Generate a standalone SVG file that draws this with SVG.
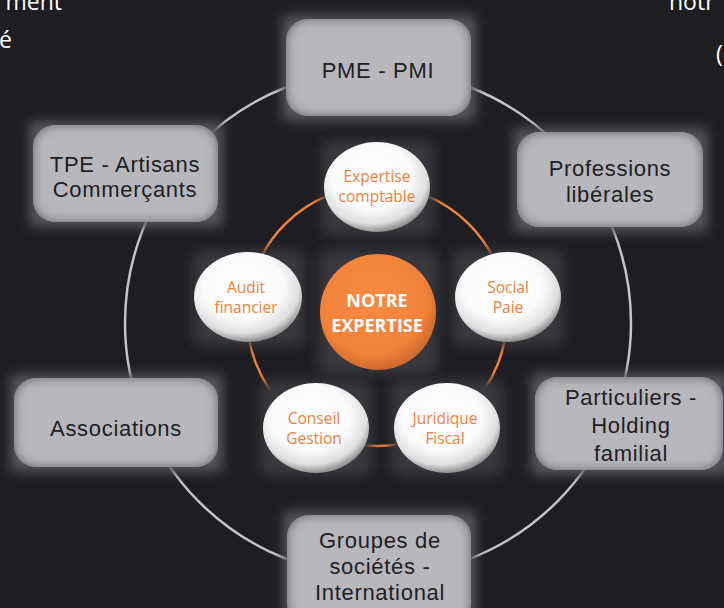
<svg xmlns="http://www.w3.org/2000/svg" width="724" height="608" viewBox="0 0 724 608">
<defs>
<style>
.box{fill:#b8b8bc;filter:url(#inset)}
.halo{fill:#55555b;filter:url(#soft)}
.btxt{font-family:"Liberation Sans","Open Sans",sans-serif;font-size:22px;letter-spacing:0.7px;fill:#202024;text-anchor:middle}
.wc{fill:url(#wg)}
.wtxt{font-family:"Open Sans","Liberation Sans",sans-serif;font-size:15.5px;fill:#f07f3c;text-anchor:middle}
.ctxt{font-family:"Open Sans","Liberation Sans",sans-serif;font-size:18px;font-weight:bold;fill:#ffffff;text-anchor:middle}
.bg{font-family:"Open Sans","Liberation Sans",sans-serif;font-size:23px;fill:#ffffff}
.whalo{fill:#38383d;filter:url(#soft)}
</style>
<filter id="inset" x="-10%" y="-10%" width="120%" height="120%">
<feFlood flood-color="#3c3c42" result="c"/>
<feComposite in="c" in2="SourceAlpha" operator="out" result="inv"/>
<feGaussianBlur in="inv" stdDeviation="6" result="blur"/>
<feComposite in="blur" in2="SourceAlpha" operator="in" result="shadow"/>
<feMerge><feMergeNode in="SourceGraphic"/><feMergeNode in="shadow"/></feMerge>
</filter>
<filter id="soft" x="-30%" y="-30%" width="160%" height="160%">
<feGaussianBlur stdDeviation="6"/>
</filter>
<radialGradient id="wg" cx="45%" cy="38%" r="62%">
<stop offset="0" stop-color="#ffffff"/>
<stop offset="0.6" stop-color="#fbfbfb"/>
<stop offset="0.85" stop-color="#dedede"/>
<stop offset="1" stop-color="#8e8e8e"/>
</radialGradient>
<radialGradient id="og" cx="45%" cy="40%" r="62%">
<stop offset="0" stop-color="#f68b42"/>
<stop offset="0.75" stop-color="#f2823b"/>
<stop offset="1" stop-color="#c9652a"/>
</radialGradient>
</defs>
<rect width="724" height="608" fill="#1e1d22"/>
<g id="bgtext">
<text class="bg" x="62" y="10" text-anchor="end">ment</text>
<text class="bg" x="12" y="48" text-anchor="end">é</text>
<text class="bg" x="669" y="10">notr</text>
<text class="bg" x="716" y="62">(</text>
</g>
<g id="connectors" fill="none">
<circle cx="378" cy="323" r="253" stroke="#c4c4c8" stroke-width="2.5"/>
<circle cx="377" cy="316" r="130" stroke="#f0823a" stroke-width="2.5"/>
</g>
<g id="pme">
<rect class="halo" x="282" y="15" width="194" height="106" rx="6"/>
<rect class="box" x="286" y="19" width="185" height="97" rx="22"/>
<text class="btxt" x="378" y="78">PME - PMI</text>
</g>
<g id="tpe">
<rect class="halo" x="29" y="121" width="194" height="106" rx="6"/>
<rect class="box" x="33" y="125" width="185" height="97" rx="22"/>
<text class="btxt" x="125" y="172">TPE - Artisans</text>
<text class="btxt" x="125" y="197">Commerçants</text>
</g>
<g id="professions">
<rect class="halo" x="513" y="128" width="195" height="104" rx="6"/>
<rect class="box" x="517" y="132" width="186" height="95" rx="22"/>
<text class="btxt" x="610" y="176">Professions</text>
<text class="btxt" x="610" y="202">libérales</text>
</g>
<g id="associations">
<rect class="halo" x="10" y="374" width="213" height="98" rx="6"/>
<rect class="box" x="14" y="378" width="204" height="89" rx="22"/>
<text class="btxt" x="116" y="436">Associations</text>
</g>
<g id="particuliers">
<rect class="halo" x="531" y="373" width="198" height="102" rx="6"/>
<rect class="box" x="535" y="377" width="188" height="93" rx="22"/>
<text class="btxt" x="631" y="405">Particuliers -</text>
<text class="btxt" x="631" y="433">Holding</text>
<text class="btxt" x="631" y="461">familial</text>
</g>
<g id="groupes">
<rect class="halo" x="283" y="511" width="193" height="106" rx="6"/>
<rect class="box" x="287" y="515" width="184" height="110" rx="22"/>
<text class="btxt" x="380" y="548">Groupes de</text>
<text class="btxt" x="380" y="574">sociétés -</text>
<text class="btxt" x="380" y="600">International</text>
</g>
<g id="expertise-comptable">
<rect class="whalo" x="322" y="140" width="112" height="96" rx="10"/>
<ellipse class="wc" cx="377" cy="187" rx="53" ry="45"/>
<text class="wtxt" x="377" y="182">Expertise</text>
<text class="wtxt" x="377" y="202">comptable</text>
</g>
<g id="audit">
<rect class="whalo" x="193" y="250" width="112" height="96" rx="10"/>
<ellipse class="wc" cx="248" cy="297" rx="54" ry="45"/>
<text class="wtxt" x="246" y="293">Audit</text>
<text class="wtxt" x="246" y="313">financier</text>
</g>
<g id="social">
<rect class="whalo" x="452" y="250" width="112" height="96" rx="10"/>
<ellipse class="wc" cx="508" cy="297" rx="53" ry="45"/>
<text class="wtxt" x="508" y="293">Social</text>
<text class="wtxt" x="508" y="313">Paie</text>
</g>
<g id="conseil">
<rect class="whalo" x="260" y="380" width="112" height="96" rx="10"/>
<ellipse class="wc" cx="316" cy="428" rx="53" ry="45"/>
<text class="wtxt" x="314" y="424">Conseil</text>
<text class="wtxt" x="314" y="444">Gestion</text>
</g>
<g id="juridique">
<rect class="whalo" x="391" y="380" width="112" height="96" rx="10"/>
<ellipse class="wc" cx="447" cy="428" rx="53" ry="45"/>
<text class="wtxt" x="445" y="424">Juridique</text>
<text class="wtxt" x="445" y="444">Fiscal</text>
</g>
<g id="notre-expertise">
<rect class="whalo" x="318" y="250" width="120" height="124" rx="10"/>
<circle cx="378" cy="312" r="58" fill="url(#og)"/>
<text class="ctxt" x="377" y="307">NOTRE</text>
<text class="ctxt" x="377" y="332">EXPERTISE</text>
</g>
</svg>
